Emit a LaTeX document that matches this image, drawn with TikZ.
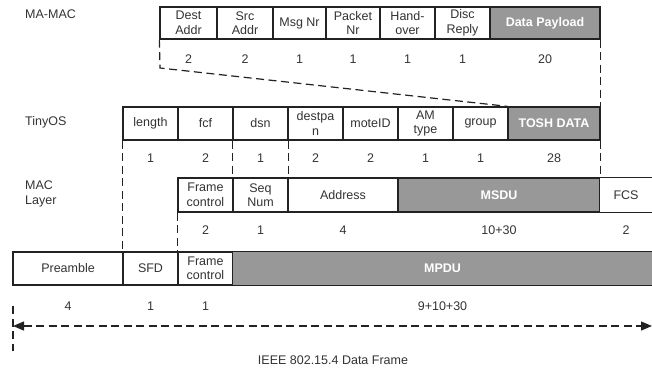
\documentclass[tikz,border=0pt]{standalone}
\usepackage{fontspec}
\setmainfont{Liberation Sans}
\usetikzlibrary{arrows.meta}
\definecolor{cellgray}{HTML}{989898}
\definecolor{linecol}{HTML}{222222}
\definecolor{txtcol}{HTML}{333333}
\tikzset{
  every node/.style={font=\fontsize{12.5}{14.5}\selectfont, text=txtcol},
  cell/.style={draw=linecol, line width=1.3pt, fill=white, inner sep=0pt, align=center},
  grcell/.style={cell, fill=cellgray, text=white, font=\fontsize{12.5}{14.5}\selectfont\bfseries},
  opencell/.style={draw=none, fill=white, inner sep=0pt, align=center},
  opengr/.style={draw=none, fill=cellgray, inner sep=0pt, align=center, text=white, font=\fontsize{12.5}{14.5}\selectfont\bfseries},
  border/.style={draw=linecol, line width=1.3pt},
  dashln/.style={draw=linecol, line width=1.2pt, dash pattern=on 8pt off 4.5pt},
  num/.style={inner sep=0pt},
  rowlab/.style={anchor=west, align=left, inner sep=0pt},
}
\begin{document}
\begin{tikzpicture}[x=1pt,y=-1pt]
\useasboundingbox (0,0) rectangle (652,368);

% Row labels
\node[rowlab] (lmamac) at (25,14) {MA-MAC};
\node[rowlab] (ltiny) at (25,122) {TinyOS};
\node[rowlab] (lmac) at (25,194) {MAC\\Layer};

% MA-MAC row
\begin{scope}[every node/.append style={minimum height=32pt}]
\node[cell, minimum width=57pt] (dest) at (188.5,23) {Dest\\Addr};
\node[cell, minimum width=56pt] (src) at (245,23) {Src\\Addr};
\node[cell, minimum width=53pt] (msg) at (299.5,23) {Msg Nr};
\node[cell, minimum width=54pt] (pkt) at (353,23) {Packet\\Nr};
\node[cell, minimum width=55pt] (hand) at (407.5,23) {Hand-\\over};
\node[cell, minimum width=55pt] (disc) at (462.5,23) {Disc\\Reply};
\node[grcell, minimum width=110pt] (payload) at (545,23) {Data Payload};
\end{scope}
\node[num] (m1) at (188.5,59) {2};
\node[num] (m2) at (245,59) {2};
\node[num] (m3) at (299.5,59) {1};
\node[num] (m4) at (353,59) {1};
\node[num] (m5) at (407.5,59) {1};
\node[num] (m6) at (462.5,59) {1};
\node[num] (m7) at (545,59) {20};

% TinyOS row
\begin{scope}[every node/.append style={minimum height=33pt}]
\node[cell, minimum width=55pt] (length) at (150.5,123.5) {length};
\node[cell, minimum width=55pt] (fcf) at (205.5,123.5) {fcf};
\node[cell, minimum width=55pt] (dsn) at (260.5,123.5) {dsn};
\node[cell, minimum width=55pt] (destpan) at (315.5,123.5) {destpa\\n};
\node[cell, minimum width=55pt] (moteid) at (370.5,123.5) {moteID};
\node[cell, minimum width=55pt] (amtype) at (425.5,123.5) {AM\\type};
\node[cell, minimum width=55pt] (group) at (480.5,123.5) {group};
\node[grcell, minimum width=92pt] (tosh) at (554,123.5) {TOSH DATA};
\end{scope}
\node[num] (t1) at (150.5,158) {1};
\node[num] (t2) at (205.5,158) {2};
\node[num] (t3) at (260.5,158) {1};
\node[num] (t4) at (315.5,158) {2};
\node[num] (t5) at (370.5,158) {2};
\node[num] (t6) at (425.5,158) {1};
\node[num] (t7) at (480.5,158) {1};
\node[num] (t8) at (554,158) {28};

% MAC row
\begin{scope}[every node/.append style={minimum height=34pt}]
\node[cell, minimum width=55pt] (fc) at (205.5,195) {Frame\\control};
\node[cell, minimum width=55pt] (seq) at (260.5,195) {Seq\\Num};
\node[cell, minimum width=110pt] (addr) at (343,195) {Address};
\node[grcell, minimum width=202pt] (msdu) at (499,195) {MSDU};
\node[opencell, minimum width=52pt] (fcs) at (626,195) {FCS};
\end{scope}
\draw[border] (fcs.north east) -- (fcs.north west) -- (fcs.south west) -- (fcs.south east);
\node[num] (c1) at (205.5,230) {2};
\node[num] (c2) at (260.5,230) {1};
\node[num] (c3) at (343,230) {4};
\node[num] (c4) at (499,230) {10+30};
\node[num] (c5) at (626,230) {2};

% PHY row
\begin{scope}[every node/.append style={minimum height=33pt}]
\node[cell, minimum width=110pt] (pre) at (68,268.5) {Preamble};
\node[cell, minimum width=55pt] (sfd) at (150.5,268.5) {SFD};
\node[cell, minimum width=55pt] (fc2) at (205.5,268.5) {Frame\\control};
\node[opengr, minimum width=419pt] (mpdu) at (442.5,268.5) {MPDU};
\end{scope}
\draw[border] (mpdu.north east) -- (mpdu.north west) -- (mpdu.south west) -- (mpdu.south east);
\node[num] (p1) at (68,306) {4};
\node[num] (p2) at (150.5,306) {1};
\node[num] (p3) at (205.5,306) {1};
\node[num] (p4) at (442.5,306) {9+10+30};

% Dashed connectors
\coordinate (bend) at (160,68);
\draw[dashln] (dest.south west) -- (bend) -- (tosh.north west);
\draw[dashln] (payload.south east) -- (tosh.north east);
\draw[dashln] (tosh.south east) -- (msdu.north east);
\draw[dashln] (length.south west) -- (sfd.north west);
\draw[dashln] (dsn.south west) -- (seq.north west);
\draw[dashln] (dsn.south east) -- (seq.north east);
\draw[dashln] (fc.south west) -- (fc2.north west);

% Frame length arrow
\coordinate (al) at (13,326);
\coordinate (ar) at (652,326);
\coordinate (vt) at (13,306);
\coordinate (vb) at (13,351);
\draw[dashln] (vt) -- (vb);
\draw[dashln, {Triangle[length=11pt,width=9pt]}-{Triangle[length=11pt,width=9pt]}] (al) -- (ar);

\node (cap) at (333,360) {IEEE 802.15.4 Data Frame};
\end{tikzpicture}
\end{document}
